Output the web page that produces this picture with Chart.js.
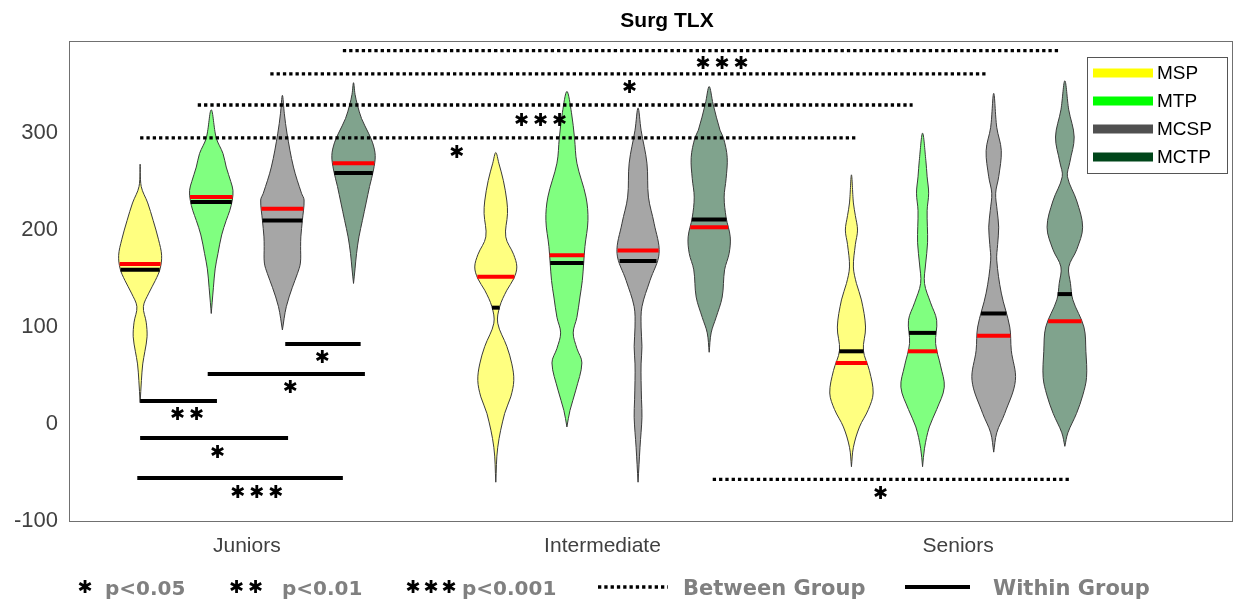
<!DOCTYPE html>
<html>
<head>
<meta charset="utf-8">
<title>Surg TLX</title>
<script src="https://cdn.jsdelivr.net/npm/chart.js@4.4.1/dist/chart.umd.min.js"></script>
<style>
  html, body { margin: 0; padding: 0; background: #fff; }
  #wrap { width: 1240px; height: 603px; }
</style>
</head>
<body>
<div id="wrap"><canvas id="surgChart" width="1240" height="603"></canvas></div>
<script>
// groups / conditions
const groups = ['Juniors', 'Intermediate', 'Seniors'];
const groupCenters = [2.5, 7.5, 12.5];
const conditions = ['MSP', 'MTP', 'MCSP', 'MCTP'];
const violinX = [1, 2, 3, 4, 6, 7, 8, 9, 11, 12, 13, 14];
const yTicks = [-100, 0, 100, 200, 300];

// violin outlines: score levels (top -> bottom)
const violinLevels = [
    [268, 245, 228, 210, 190, 174, 160, 148, 135, 121, 105, 90, 75, 62, 45, 22],          // Juniors MSP
    [324, 295, 279, 265, 250, 241, 231, 220, 210, 195, 176, 160, 141, 125, 114],          // Juniors MTP
    [339, 320, 300, 265, 238, 231, 210, 193, 183, 166, 155, 141, 121, 97],                // Juniors MCSP
    [352, 340, 329, 315, 300, 290, 277, 262, 245, 228, 210, 193, 176, 160, 145],          // Juniors MCTP
    [280, 269, 251, 230, 217, 193, 175, 162, 150, 138, 121, 104, 80, 62, 45, 28, 11, -24, -60], // Intermediate MSP
    [343, 321, 295, 269, 234, 210, 183, 148, 131, 110, 94, 78, 63, 35, 14, -3],           // Intermediate MTP
    [326, 303, 269, 234, 207, 176, 148, 121, 100, 80, 62, 45, 25, 7, -24, -60],           // Intermediate MCSP
    [348, 330, 303, 295, 275, 253, 234, 213, 193, 176, 159, 131, 110, 94, 74],            // Intermediate MCTP
    [257, 228, 215, 200, 185, 162, 145, 128, 100, 76, 55, 32, 15, -3, -24, -44],          // Seniors MSP
    [300, 272, 255, 238, 220, 187, 165, 145, 125, 107, 83, 60, 38, 15, -3, -25, -44],     // Seniors MTP
    [341, 306, 282, 255, 238, 220, 203, 185, 169, 135, 100, 76, 45, 11, -9, -29],         // Seniors MCSP
    [354, 324, 296, 270, 255, 230, 203, 180, 162, 145, 128, 100, 75, 48, 30, 11, -9, -23] // Seniors MCTP
];
// violin half-width at each level, % of the widest violin
const violinWidths = [
    [0, 5, 35, 60, 85, 99, 92, 70, 40, 15, 28, 32, 22, 12, 6, 0],
    [0, 23, 54, 69, 90, 100, 97, 85, 69, 48, 31, 18, 10, 4, 0],
    [0, 9, 21, 51, 88, 100, 92, 85, 84, 83, 69, 46, 18, 0],
    [0, 7, 18, 37, 69, 88, 100, 92, 74, 58, 41, 25, 14, 7, 0],
    [0, 14, 35, 51, 54, 46, 82, 97, 83, 51, 18, 9, 51, 74, 83, 69, 41, 9, 0],
    [0, 21, 35, 46, 88, 97, 83, 71, 60, 46, 29, 46, 69, 41, 14, 0],
    [0, 14, 41, 48, 74, 97, 55, 18, 14, 18, 14, 14, 16, 18, 9, 0],
    [0, 18, 50, 66, 83, 78, 69, 78, 97, 92, 71, 60, 32, 9, 0],
    [0, 9, 18, 28, 18, 9, 23, 46, 65, 55, 83, 100, 78, 37, 9, 0],
    [0, 15, 21, 28, 21, 23, 14, 9, 37, 65, 60, 83, 100, 65, 31, 9, 0],
    [0, 14, 35, 23, 9, 16, 23, 18, 14, 35, 74, 81, 100, 51, 14, 0],
    [0, 18, 43, 23, 12, 55, 82, 55, 18, 26, 37, 88, 97, 100, 83, 54, 14, 0]
];

// red and black bars inside each violin
const redBars = [165, 234, 222, 269, 152, 174, 179, 203, 63, 75, 91, 106];
const blackBars = [159, 229, 210, 259, 120, 166, 168, 211, 75, 94, 114, 134];

// between-group comparisons (dotted)
const betweenY = [295, 329, 361, 385, -57];
const betweenFrom = [1.0, 1.81, 2.83, 3.85, 9.05];
const betweenTo = [11.07, 11.86, 12.90, 13.93, 14.07];
const betweenStars = ['*', '***', '*', '***', '*'];
const betweenStarX = [5.45, 6.63, 7.88, 9.18, 11.41];
const betweenStarY = [279, 312, 346, 371, -72];

// within-group comparisons (solid)
const withinY = [82.5, 51.5, 23.7, -14.4, -55.7];
const withinFrom = [3.04, 1.95, 1.0, 1.0, 0.96];
const withinTo = [4.10, 4.16, 2.08, 3.08, 3.85];
const withinStars = ['*', '*', '**', '*', '***'];
const withinStarX = [3.56, 3.11, 1.66, 2.09, 2.64];
const withinStarY = [68, 37, 9, -30, -71];

const fillColors = ['#ffff80', '#80ff80', '#a6a6a6', '#80a38d'];
const swatchColors = ['#ffff00', '#00ff00', '#505050', '#00461a'];
const HALF = 0.305; // widest half-width in x units
const STAR = '\u2731';

function violinPoints(c, lv, wd) {
    const pts = [];
    for (let i = lv.length - 1; i >= 0; i--) pts.push({ x: c + wd[i] / 100 * HALF, y: lv[i] });
    for (let i = 1; i < lv.length; i++) pts.push({ x: c - wd[i] / 100 * HALF, y: lv[i] });
    return pts;
}

function widthAt(lv, wd, v) {
    for (let i = 0; i < lv.length - 1; i++) {
        if (v <= lv[i] && v >= lv[i + 1]) {
            const t = (lv[i] - v) / (lv[i] - lv[i + 1]);
            return (wd[i] + t * (wd[i + 1] - wd[i])) / 100 * HALF;
        }
    }
    return 0;
}

const datasets = [];

// bars on top
violinX.forEach((c, i) => {
    [[redBars, '#ff0000'], [blackBars, '#000000']].forEach(([arr, col]) => {
        const hw = widthAt(violinLevels[i], violinWidths[i], arr[i]);
        datasets.push({
            data: [{ x: c - hw, y: arr[i] }, { x: c + hw, y: arr[i] }],
            borderColor: col, borderWidth: 4, pointRadius: 0, fill: false, order: 0
        });
    });
});

betweenY.forEach((y, i) => {
    datasets.push({
        data: [{ x: betweenFrom[i], y: y }, { x: betweenTo[i], y: y }],
        borderColor: '#000', borderWidth: 3.3, borderDash: [3.3, 3], borderCapStyle: 'butt',
        pointRadius: 0, fill: false, order: 0
    });
});

withinY.forEach((y, i) => {
    datasets.push({
        data: [{ x: withinFrom[i], y: y }, { x: withinTo[i], y: y }],
        borderColor: '#000', borderWidth: 4, pointRadius: 0, fill: false, order: 0
    });
});

violinX.forEach((c, i) => {
    datasets.push({
        data: violinPoints(c, violinLevels[i], violinWidths[i]),
        borderColor: '#3a3a3a', borderWidth: 1, backgroundColor: fillColors[i % 4],
        fill: 'shape', tension: 0.35, pointRadius: 0, order: 1
    });
});

function drawStars(ctx, str, cx, cy, gap, size) {
    const n = str.length;
    ctx.font = 'bold ' + size + 'px "DejaVu Sans"';
    ctx.textAlign = 'center';
    ctx.textBaseline = 'middle';
    ctx.fillStyle = '#000';
    for (let k = 0; k < n; k++) {
        ctx.fillText(STAR, cx + (k - (n - 1) / 2) * gap, cy);
    }
}

const decorPlugin = {
    id: 'decor',
    beforeDatasetsDraw(chart) {
        const { ctx, chartArea: a } = chart;
        ctx.save();
        ctx.strokeStyle = '#707070';
        ctx.lineWidth = 1;
        ctx.strokeRect(a.left + 0.5, a.top + 0.5, a.right - a.left, a.bottom - a.top);
        ctx.restore();
    },
    afterDatasetsDraw(chart) {
        const { ctx } = chart;
        const xs = chart.scales.x, ys = chart.scales.y;
        ctx.save();
        betweenStars.forEach((s, i) => drawStars(ctx, s, xs.getPixelForValue(betweenStarX[i]), ys.getPixelForValue(betweenStarY[i]), 19, 18));
        withinStars.forEach((s, i) => drawStars(ctx, s, xs.getPixelForValue(withinStarX[i]), ys.getPixelForValue(withinStarY[i]), 19, 18));

        // legend box
        ctx.fillStyle = '#fff';
        ctx.fillRect(1087, 57, 140, 116);
        ctx.strokeStyle = '#555';
        ctx.lineWidth = 1;
        ctx.strokeRect(1087.5, 57.5, 140, 116);
        conditions.forEach((name, i) => {
            const y = 73 + i * 28;
            ctx.fillStyle = swatchColors[i];
            ctx.fillRect(1093, y - 4.5, 60, 9);
            ctx.fillStyle = '#000';
            ctx.font = '19px "Liberation Sans", Arial, sans-serif';
            ctx.textAlign = 'left';
            ctx.textBaseline = 'middle';
            ctx.fillText(name, 1157, y + 1);
        });

        // title
        ctx.fillStyle = '#000';
        ctx.font = 'bold 21px "Liberation Sans", Arial, sans-serif';
        ctx.textAlign = 'center';
        ctx.textBaseline = 'middle';
        ctx.fillText('Surg TLX', 667, 21);

        // bottom key
        drawStars(ctx, '*', 85, 588, 17, 18);
        drawStars(ctx, '**', 246, 588, 19, 18);
        drawStars(ctx, '***', 431, 588, 18, 18);
        ctx.fillStyle = '#808080';
        ctx.textAlign = 'left';
        ctx.textBaseline = 'alphabetic';
        ctx.font = 'bold 20px "DejaVu Sans"';
        ctx.fillText('p<0.05', 105, 595);
        ctx.fillText('p<0.01', 282, 595);
        ctx.fillText('p<0.001', 462, 595);
        ctx.font = 'bold 21px "DejaVu Sans"';
        ctx.fillText('Between Group', 683, 595);
        ctx.fillText('Within Group', 993, 595);
        ctx.strokeStyle = '#000';
        ctx.lineWidth = 3.3;
        ctx.setLineDash([3.3, 3]);
        ctx.beginPath(); ctx.moveTo(598, 587); ctx.lineTo(668, 587); ctx.stroke();
        ctx.setLineDash([]);
        ctx.lineWidth = 4;
        ctx.beginPath(); ctx.moveTo(905, 587); ctx.lineTo(970, 587); ctx.stroke();
        ctx.restore();
    }
};

new Chart(document.getElementById('surgChart'), {
    type: 'line',
    data: { datasets: datasets },
    options: {
        responsive: false,
        animation: false,
        devicePixelRatio: 1,
        layout: { padding: { top: 41, right: 8, left: 0, bottom: 0 } },
        plugins: { legend: { display: false }, tooltip: { enabled: false }, title: { display: false } },
        scales: {
            x: {
                type: 'linear', min: 0, max: 16.35,
                grid: { display: false, drawTicks: false }, border: { display: false },
                afterBuildTicks: (axis) => { axis.ticks = groupCenters.map(v => ({ value: v })); },
                afterFit: (axis) => { axis.height = 82; },
                ticks: {
                    autoSkip: false, maxRotation: 0, padding: 13, color: '#404040',
                    font: { size: 21, family: '"Liberation Sans", Arial, sans-serif' },
                    callback: (value, index) => groups[index]
                }
            },
            y: {
                min: -100, max: 395,
                grid: { display: false, drawTicks: false }, border: { display: false },
                afterBuildTicks: (axis) => { axis.ticks = yTicks.map(v => ({ value: v })); },
                afterFit: (axis) => { axis.width = 69; },
                ticks: {
                    autoSkip: false, padding: 11, color: '#404040',
                    font: { size: 22, family: '"Liberation Sans", Arial, sans-serif' },
                    callback: (value, index) => String(yTicks[index])
                }
            }
        }
    },
    plugins: [decorPlugin]
});
</script>
</body>
</html>
